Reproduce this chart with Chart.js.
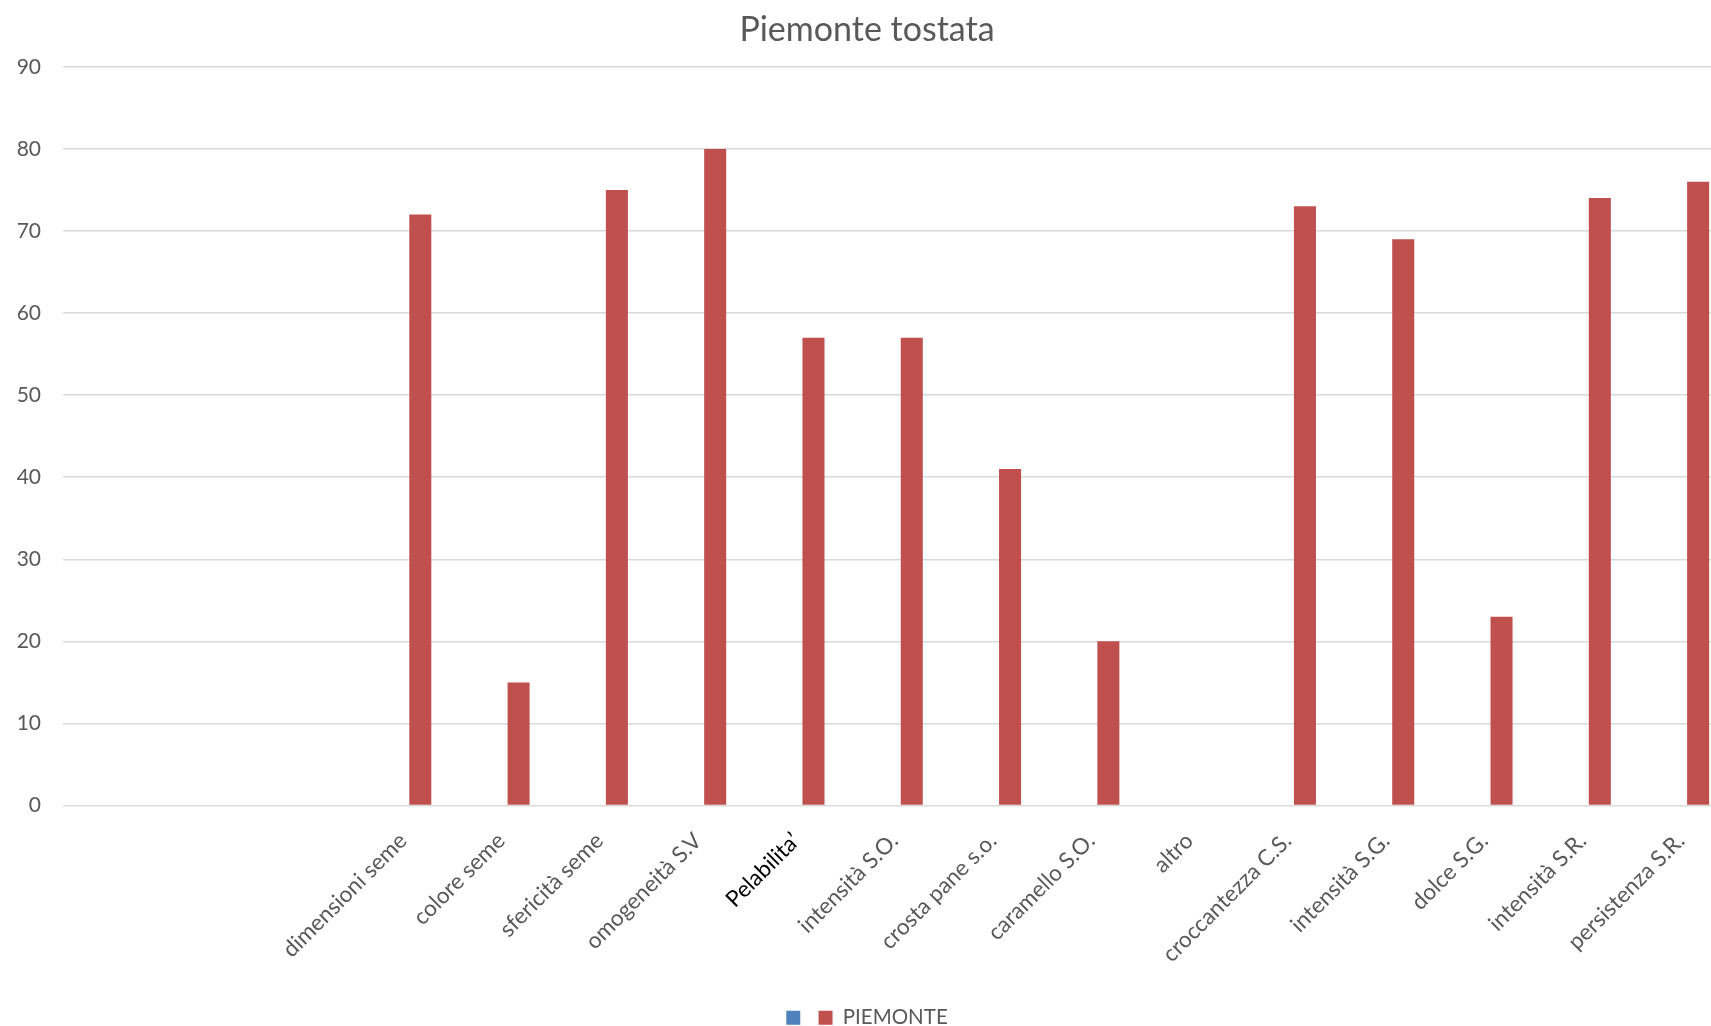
<!DOCTYPE html>
<html lang="it">
<head>
  <meta charset="UTF-8" />
  <title>Piemonte tostata</title>
  <script src="https://cdn.jsdelivr.net/npm/chart.js"></script>
  <style>
    html, body {
      margin: 0;
      padding: 0;
      overflow: hidden;
      background: #fff;
    }
    #wrap {
      width: 1750px;
      height: 1038px;
    }
  </style>
</head>
<body>
  <div id="wrap"><canvas id="tostataChart" width="1750" height="1038"></canvas></div>

  <script>
    // descrittori del panel test (le prime tre colonne sono vuote)
    const categories = [
      '', '', '',
      'dimensioni seme', 'colore seme', 'sfericità seme', 'omogeneità S.V',
      'Pelabilita’', 'intensità S.O.', 'crosta pane s.o.', 'caramello S.O.',
      'altro', 'croccantezza C.S.', 'intensità S.G.', 'dolce S.G.',
      'intensità S.R.', 'persistenza S.R.'
    ];
    const emptySeries = [null, null, null, null, null, null, null, null, null, null, null, null, null, null, null, null, null];
    const piemonte = [null, null, null, 72, 15, 75, 80, 57, 57, 41, 20, null, 73, 69, 23, 74, 76];
    const yTicks = [0, 10, 20, 30, 40, 50, 60, 70, 80, 90];

    const grey = '#595959';
    const labelColors = categories.map(c => c === 'Pelabilita’' ? '#000000' : grey);

    const ctx = document.getElementById('tostataChart').getContext('2d');
    new Chart(ctx, {
      type: 'bar',
      data: {
        labels: categories,
        datasets: [
          {
            label: '',
            data: emptySeries,
            backgroundColor: '#4f81bd'
          },
          {
            label: 'PIEMONTE',
            data: piemonte,
            backgroundColor: '#c0504d'
          }
        ]
      },
      options: {
        responsive: false,
        animation: false,
        devicePixelRatio: 1,
        categoryPercentage: 0.54,
        barPercentage: 0.83,
        layout: { padding: { left: 0, right: 16, top: 0, bottom: 0 } },
        plugins: {
          title: {
            display: true,
            text: 'Piemonte tostata',
            color: grey,
            font: { family: 'Lato', size: 34, weight: 'normal' },
            padding: { top: 10, bottom: 16 }
          },
          legend: {
            position: 'bottom',
            labels: {
              boxWidth: 14,
              boxHeight: 14,
              padding: 8,
              color: grey,
              font: { family: 'Lato', size: 20.5 }
            }
          },
          tooltip: { enabled: false }
        },
        scales: {
          x: {
            grid: { display: false },
            border: { display: false },
            ticks: {
              autoSkip: false,
              maxRotation: 45,
              minRotation: 45,
              padding: 14,
              labelOffset: -4,
              color: labelColors,
              font: { family: 'Lato', size: 22.5 }
            },
            afterFit: s => { s.height = 194; }
          },
          y: {
            min: 0,
            max: 90,
            afterBuildTicks: s => { s.ticks = yTicks.map(v => ({ value: v })); },
            grid: { color: '#d9d9d9', lineWidth: 1.5, drawTicks: false },
            border: { display: false },
            ticks: {
              padding: 22,
              color: grey,
              font: { family: 'Lato', size: 21 }
            },
            afterFit: s => { s.width = 63; }
          }
        }
      }
    });
  </script>
</body>
</html>
